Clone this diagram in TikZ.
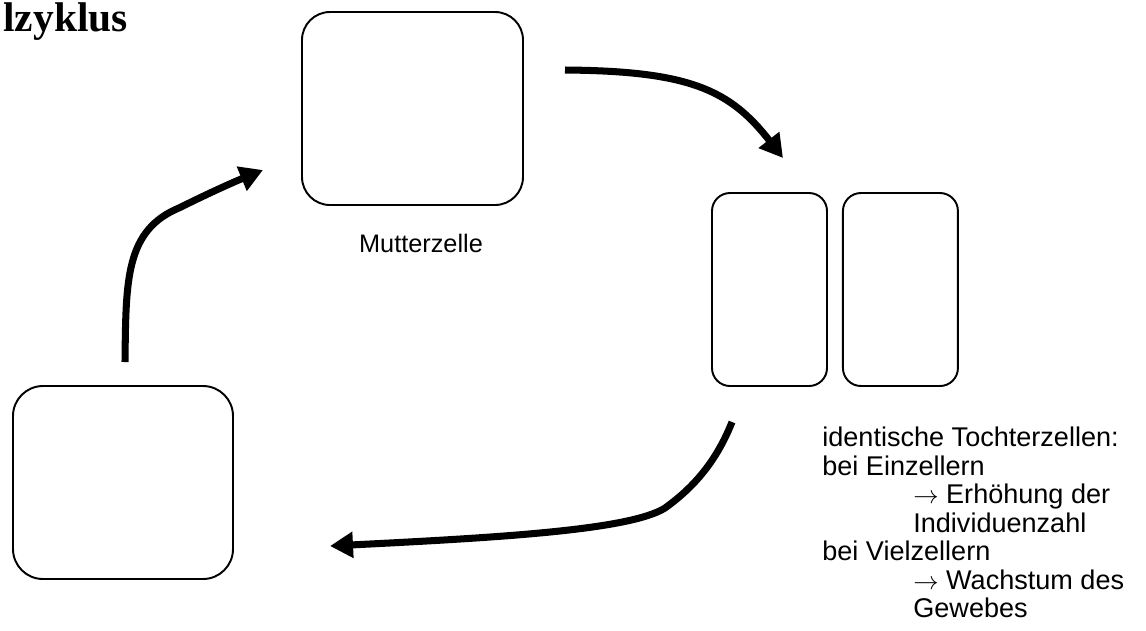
\documentclass[tikz,border=0pt]{standalone}
\usepackage{fontspec}
\setmainfont{Liberation Sans}
\newfontfamily\titelfont{Liberation Serif}
\usetikzlibrary{arrows.meta,positioning}
\tikzset{
  zelle/.style={draw,line width=1.1pt,rounded corners=0.56cm,minimum width=4.42cm,minimum height=3.86cm,inner sep=0pt},
  tochter/.style={zelle,rounded corners=0.36cm,minimum width=2.3cm},
  pfeil/.style={line width=4pt,-{Triangle[length=0.46cm,width=0.5cm]}},
  beschrift/.style={inner sep=0pt,font=\fontsize{14.4}{15.9}\selectfont}
}
\begin{document}
\begin{tikzpicture}
\useasboundingbox (0,0) rectangle (22.92,-12.6);
\node[inner sep=0pt,anchor=base west,font=\titelfont\bfseries\fontsize{23.6}{26}\selectfont] (titel) at (0.06,-0.62) {lzyklus};
% Zellen
\node[zelle] (mutter) at (8.25,-2.17) {};
\node[tochter] (tochterA) at (15.39,-5.79) {};
\node[tochter,right=0.28cm of tochterA] (tochterB) {};
\node[zelle,rounded corners=0.6cm,minimum width=4.4cm] (zelle) at (2.46,-9.65) {};
\node[beschrift,anchor=base] (mlabel) at (8.42,-5.04) {Mutterzelle};
\node[beschrift,font=\fontsize{15.4}{16.2}\selectfont,anchor=north west,align=left] (tlabel) at (16.44,-8.54) {identische Tochterzellen:\\bei Einzellern\\\hspace*{1.82cm}$\rightarrow$ Erhöhung der\\\hspace*{1.82cm}Individuenzahl\\bei Vielzellern\\\hspace*{1.82cm}$\rightarrow$ Wachstum des\\\hspace*{1.82cm}Gewebes};
% Pfeile
\coordinate (p1a) at (11.3,-1.4);
\coordinate (p1b) at (15.66,-3.16);
\coordinate (p2a) at (14.64,-8.44);
\coordinate (p2b) at (6.6,-10.92);
\coordinate (p3a) at (2.5,-7.24);
\coordinate (p3b) at (5.26,-3.4);
\draw[pfeil] (p1a) .. controls (13.8,-1.42) and (14.6,-1.8) .. (p1b);
\draw[pfeil] (p2a) .. controls (14.3,-9.3) and (13.8,-9.8) .. (13.3,-10.16) .. controls (12.6,-10.6) and (10,-10.75) .. (p2b);
\draw[pfeil] (p3a) .. controls (2.52,-5.6) and (2.5,-4.6) .. (3.6,-4.15) .. controls (4.2,-3.85) and (4.7,-3.63) .. (p3b);
\end{tikzpicture}
\end{document}
